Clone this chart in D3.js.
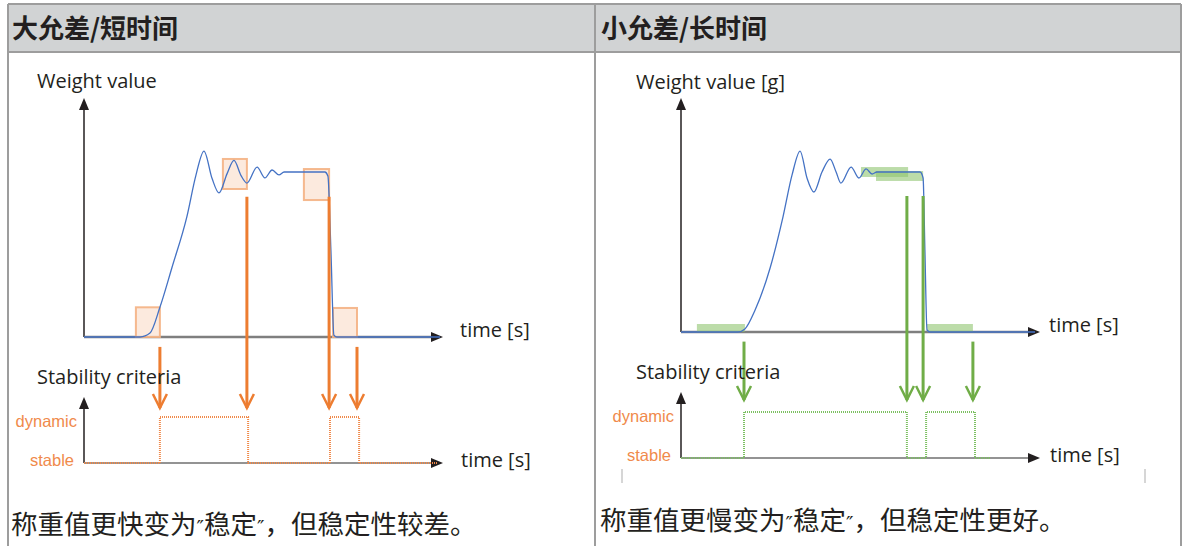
<!DOCTYPE html>
<html><head><meta charset="utf-8">
<script src="https://cdn.jsdelivr.net/npm/d3@7"></script>
<style>body{margin:0;background:#fff}svg{display:block}</style>
</head><body>
<svg id="c" width="1186" height="546"></svg>
<script>
// ---- data ----
const titles = ["大允差/短时间", "小允差/长时间"];
const captions = [["称重值更快变为", "″", "稳定", "″", "，但稳定性较差。"], ["称重值更慢变为", "″", "稳定", "″", "，但稳定性更好。"]];
const yLabels = ["Weight value", "Weight value [g]"];
const stabLabel = "Stability criteria";
const timeLabel = "time [s]";
const stateLabels = ["dynamic", "stable"];

// weight curve: [time, value]
const curveLeft = [[0,0],[18.7,0],[22,0.024],[25.3,0.18],[29.3,0.42],[34.3,0.73],[37.3,0.98],[40,1.127],[42.7,0.96],[45,0.873],[47.7,0.99],[50,1.07],[52.3,0.98],[54.3,0.933],[57.7,1.03],[60.3,0.964],[62.7,1.012],[65,0.982],[66.7,1.0],[80.3,1.0],[81.3,0.976],[82.3,0.527],[83.3,0.012],[84.3,0],[118.7,0]];
const curveRight = [[0,0],[19,0],[21.3,0.019],[24.7,0.1375],[29.7,0.4],[34,0.72],[37,0.98],[39.7,1.131],[42,0.9625],[44.3,0.875],[47,1.0],[49.7,1.081],[51.7,1.0],[53.3,0.931],[56.7,1.031],[59.3,0.9625],[61.7,1.019],[63.7,0.9875],[65.3,1.0],[79.7,1.0],[80.7,0.9625],[81.3,0.5125],[82,0.0125],[83,0],[118,0]];
// tolerance windows: [t0, t1, v0, v1]
const windowsLeft = [[17.3,25.3,0,0.18],[46.3,54.3,0.897,1.079],[73.3,81.7,0.83,1.018],[83,91,0,0.176]];
const windowsRight = [[5.3,21.3,0,0.05],[60,75.7,0.969,1.031],[65,80.7,0.944,1.006],[82,97.3,0,0.05]];
// arrows: [time, start value]
const arrowsLeft = [[25.3,-0.06],[54.3,0.85],[81.7,0.85],[91,-0.06]];
const arrowsRight = [[21,-0.06],[75.3,0.85],[80.7,0.85],[97.3,-0.06]];
// stability steps: [time, state(1 dynamic, 0 stable)]
const stepsLeft = [[0,0],[25.3,0],[25.3,1],[54.7,1],[54.7,0],[82,0],[82,1],[91.7,1],[91.7,0],[118,0]];
const stepsRight = [[0,0],[21,0],[21,1],[75.3,1],[75.3,0],[81.7,0],[81.7,1],[98,1],[98,0],[103,0]];

const panels = [
  {ox:84, base:337, vs:165, sBase:463, sDyn:417, curve:curveLeft, wins:windowsLeft, arrows:arrowsLeft, steps:stepsLeft,
   col:"#ed7d31", winFill:"#fbe3d3", winStroke:"#f4b183", winOp:0.75, stepCol:"#f08a4b", arrowEnd:408, lbl:yLabels[0],
   lx:37, ly:88, tx:460, stx:37, dynLx:77},
  {ox:681, base:332, vs:160, sBase:458, sDyn:412, curve:curveRight, wins:windowsRight, arrows:arrowsRight, steps:stepsRight,
   col:"#70ad47", winFill:"#8fc46f", winStroke:"none", winOp:0.6, stepCol:"#7cc062", arrowEnd:400, lbl:yLabels[1],
   lx:636, ly:89, tx:1049, stx:636, dynLx:674}
];

const svg = d3.select("#c");
const latin = "'Open Sans','DejaVu Sans',sans-serif";
const cjk = "'Noto Sans CJK SC','Noto Sans',sans-serif";
const labelSize = 20;

// ---- table frame ----
svg.append("rect").attr("x",8).attr("y",5).attr("width",1173).attr("height",47).attr("fill","#d1d3d4");
const gridCol = "#9d9d9d";
[[8,4,1181,4],[8,52,1181,52],[8,4,8,546],[595,4,595,546],[1181,4,1181,546]].forEach(l=>{
  svg.append("line").attr("x1",l[0]).attr("y1",l[1]).attr("x2",l[2]).attr("y2",l[3]).attr("stroke",gridCol).attr("stroke-width",2);
});
titles.forEach((t,i)=>{
  svg.append("text").attr("x",i?601:12).attr("y",38).attr("font-family",cjk).attr("font-weight","bold")
    .attr("font-size",26).attr("fill","#231f20").text(t);
});
captions.forEach((c,i)=>{
  const tx = svg.append("text").attr("x",i?600:11).attr("y",i?530:534).attr("font-family",cjk)
    .attr("font-size",26.5).attr("fill","#231f20");
  c.forEach(part=>{
    const ts = tx.append("tspan").text(part);
    if (part === "″") ts.attr("font-family","'DejaVu Sans',sans-serif").attr("font-size",20);
  });
});
// small grey marks
[622,1145].forEach(x=>svg.append("line").attr("x1",x).attr("x2",x).attr("y1",469).attr("y2",483).attr("stroke","#c8c8c8").attr("stroke-width",1.5));

function arrowHead(g, x, y, dir){ // filled triangle
  const s=5, L=12;
  let pts = dir==="up" ? [[x,y],[x-s,y+L],[x+s,y+L]] : [[x,y],[x-L,y-s],[x-L,y+s]];
  g.append("path").attr("d",d3.line()(pts)+"Z").attr("fill","#231f20");
}

panels.forEach(p=>{
  const g = svg.append("g");
  const x = d3.scaleLinear().domain([0,120]).range([p.ox, p.ox+360]);
  const y = d3.scaleLinear().domain([0,1]).range([p.base, p.base-p.vs]);
  const ys = d3.scaleLinear().domain([0,1]).range([p.sBase, p.sDyn]);
  const axEnd = x(119);

  // weight axes
  g.append("line").attr("x1",p.ox).attr("x2",p.ox).attr("y1",p.base).attr("y2",110).attr("stroke","#231f20").attr("stroke-width",1.5);
  arrowHead(g,p.ox,98,"up");
  g.append("line").attr("x1",p.ox).attr("x2",axEnd-10).attr("y1",p.base).attr("y2",p.base).attr("stroke","#7f7f7f").attr("stroke-width",2.5);
  arrowHead(g,axEnd+2,p.base,"right");
  g.append("text").attr("x",p.lx).attr("y",p.ly).attr("font-family",latin).attr("font-size",labelSize).attr("fill","#231f20").text(p.lbl);
  g.append("text").attr("x",p.tx).attr("y",p.base+0).attr("font-family",latin).attr("font-size",labelSize).attr("fill","#231f20").text(timeLabel);

  // windows
  g.selectAll(".w").data(p.wins).enter().append("rect")
    .attr("x",d=>x(d[0])).attr("width",d=>x(d[1])-x(d[0]))
    .attr("y",d=>y(d[3])).attr("height",d=>y(d[2])-y(d[3]))
    .attr("fill",p.winFill).attr("fill-opacity",p.winOp)
    .attr("stroke",p.winStroke).attr("stroke-width",2).attr("stroke-opacity",0.9);

  // curve
  g.append("path").datum(p.curve)
    .attr("d",d3.line().x(d=>x(d[0])).y(d=>y(d[1])).curve(d3.curveMonotoneX))
    .attr("fill","none").attr("stroke","#4472c4").attr("stroke-width",1.3);

  // arrows
  p.arrows.forEach(a=>{
    const ax = x(a[0]), y0 = y(a[1]), y1 = p.arrowEnd;
    g.append("line").attr("x1",ax).attr("x2",ax).attr("y1",y0).attr("y2",y1).attr("stroke",p.col).attr("stroke-width",3);
    g.append("path").attr("d",d3.line()([[ax-7,y1-14],[ax,y1],[ax+7,y1-14]]))
      .attr("fill","none").attr("stroke",p.col).attr("stroke-width",2.5);
  });

  // stability axes
  g.append("line").attr("x1",p.ox).attr("x2",p.ox).attr("y1",p.sBase).attr("y2",p.sDyn-10).attr("stroke","#231f20").attr("stroke-width",1.5);
  arrowHead(g,p.ox,p.sDyn-20,"up");
  g.append("line").attr("x1",p.ox).attr("x2",axEnd-10).attr("y1",p.sBase).attr("y2",p.sBase).attr("stroke","#6f6f6f").attr("stroke-width",1.5);
  arrowHead(g,axEnd+2,p.sBase,"right");
  g.append("text").attr("x",p.stx).attr("y",p.sDyn-33).attr("font-family",latin).attr("font-size",labelSize).attr("fill","#231f20").text(stabLabel);
  g.append("text").attr("x",p.tx+1).attr("y",p.sBase+4).attr("font-family",latin).attr("font-size",labelSize).attr("fill","#231f20").text(timeLabel);
  g.append("text").attr("x",p.dynLx).attr("y",p.sDyn+10).attr("text-anchor","end").attr("font-family","'Liberation Sans',Arial,sans-serif").attr("font-size",16.5).attr("fill","#f08a4b").text(stateLabels[0]);
  g.append("text").attr("x",p.dynLx-3).attr("y",p.sBase+3).attr("text-anchor","end").attr("font-family","'Liberation Sans',Arial,sans-serif").attr("font-size",16.5).attr("fill","#f08a4b").text(stateLabels[1]);

  g.append("path").datum(p.steps)
    .attr("d",d3.line().x(d=>x(d[0])).y(d=>ys(d[1])))
    .attr("fill","none").attr("stroke",p.stepCol).attr("stroke-width",2).attr("stroke-dasharray","1,1");
});
</script>
</body></html>
